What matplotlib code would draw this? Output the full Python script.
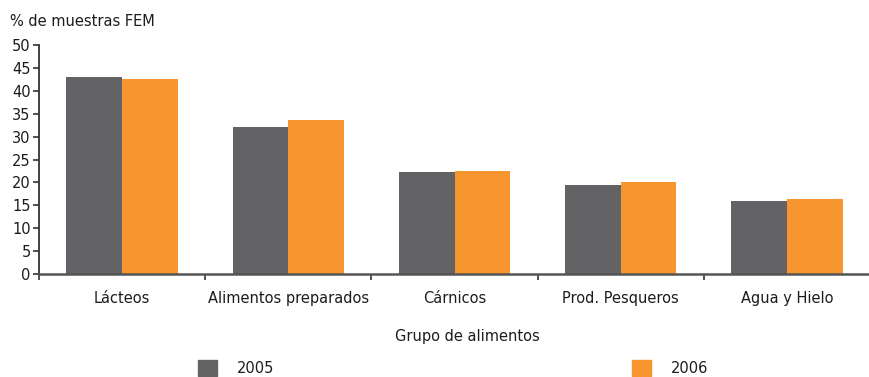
import matplotlib
matplotlib.use("Agg")
import matplotlib.pyplot as plt
import numpy as np
from matplotlib.patches import Patch

categories = ["Lácteos", "Alimentos preparados", "Cárnicos", "Prod. Pesqueros", "Agua y Hielo"]
years = ["2005", "2006"]
values_2005 = [43.1, 32.0, 22.2, 19.4, 15.9]
values_2006 = [42.6, 33.6, 22.4, 20.0, 16.4]
y_ticks = [0, 5, 10, 15, 20, 25, 30, 35, 40, 45, 50]

color_2005 = "#636366"
color_2006 = "#F7962E"
text_color = "#1c1c1c"

plt.rcParams["font.family"] = ["DejaVu Sans"]
plt.rcParams["font.size"] = 10.5

fig = plt.figure(figsize=(8.7, 3.77), dpi=100)
ax = fig.add_axes([39 / 870, 1 - 274 / 377, 1 - 39 / 870, (274 - 45) / 377])

x = np.arange(len(categories))
w = 0.335
ax.bar(x - w / 2, values_2005, width=w, color=color_2005, linewidth=0)
ax.bar(x + w / 2, values_2006, width=w, color=color_2006, linewidth=0)

ax.set_ylim(0, 50)
ax.set_xlim(-0.5, 4.446)
ax.set_yticks(y_ticks)
ax.set_yticklabels([str(v) for v in y_ticks], color=text_color)

# category labels centred, ticks at group boundaries
ax.set_xticks(x)
ax.set_xticklabels(categories, color=text_color)
ax.tick_params(axis="x", which="major", length=0, pad=12)
ax.set_xticks(np.arange(-0.5, len(categories), 1.0), minor=True)
ax.tick_params(axis="x", which="minor", length=4, width=1.2, color="#333333", direction="out")
ax.tick_params(axis="y", length=4, width=1.2, color="#333333", pad=2)

for s in ("top", "right"):
    ax.spines[s].set_visible(False)
ax.spines["left"].set_color("#333333")
ax.spines["left"].set_linewidth(1.3)
ax.spines["bottom"].set_color("#555555")
ax.spines["bottom"].set_linewidth(1.8)

fig.text(10 / 870, 1 - 21 / 377, "% de muestras FEM", ha="left", va="center",
         color=text_color, fontsize=10.5)
fig.text(467 / 870, 1 - 336 / 377, "Grupo de alimentos", ha="center", va="center",
         color=text_color, fontsize=10.5)

leg_kw = dict(frameon=False, handlelength=1.3, handleheight=1.3, handletextpad=1.4,
              borderpad=0, borderaxespad=0, fontsize=10.5, labelcolor=text_color)
fig.legend(handles=[Patch(color=color_2005, label=years[0])], loc="center left",
           bbox_to_anchor=(198 / 870, 1 - 368 / 377), **leg_kw)
fig.legend(handles=[Patch(color=color_2006, label=years[1])], loc="center left",
           bbox_to_anchor=(632 / 870, 1 - 368 / 377), **leg_kw)

fig.savefig("out.png", dpi=100)
